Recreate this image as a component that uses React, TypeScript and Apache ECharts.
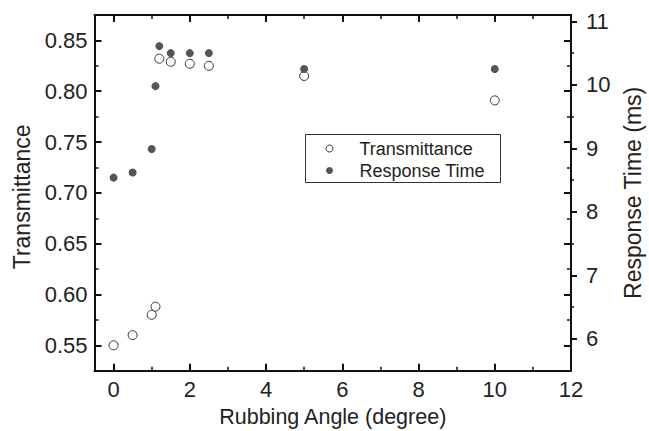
import React, { useEffect, useRef } from "react";
import * as echarts from "echarts";

const angleT = [0, 0.5, 1.0, 1.1, 1.2, 1.5, 2.0, 2.5, 5.0, 10.0];
const transmittance = [0.55, 0.56, 0.58, 0.588, 0.832, 0.829, 0.827, 0.825, 0.815, 0.791];
const angleR = [0, 0.5, 1.0, 1.1, 1.2, 1.5, 2.0, 2.5, 5.0, 10.0];
const responseTime = [8.54, 8.62, 8.99, 9.98, 10.61, 10.5, 10.5, 10.5, 10.25, 10.25];
const legendNames = ["Transmittance", "Response Time"];

const xMajor = [0, 2, 4, 6, 8, 10, 12];
const xMinor = [1, 3, 5, 7, 9, 11];
const tMajor = [0.55, 0.6, 0.65, 0.7, 0.75, 0.8, 0.85];
const tMinor = [0.575, 0.625, 0.675, 0.725, 0.775, 0.825];
const rMajor = [6, 7, 8, 9, 10, 11];
const rMinor = [6.5, 7.5, 8.5, 9.5, 10.5];

const FONT = "'Liberation Sans', Arial, Helvetica, sans-serif";
const TXT = "#222";
const LINE = "#111";
const OPEN_STROKE = "#333";
const FILLED = "#555";
const TICK_FS = 22;

export default function App() {
  const ref = useRef<HTMLDivElement>(null);
  useEffect(() => {
    if (!ref.current) return;
    const chart = echarts.init(ref.current, undefined, { renderer: "svg" });
    const tickAxisX = (pos: string, vals: number[], len: number, w: number, line: boolean) => ({
      type: "value",
      position: pos,
      min: -0.5,
      max: 12,
      axisLine: { show: line, onZero: false, lineStyle: { color: LINE, width: 2 } },
      axisTick: { show: true, inside: true, length: len, customValues: vals, lineStyle: { color: LINE, width: w } },
      axisLabel: { show: false },
      splitLine: { show: false },
    });
    const tickAxisY = (pos: string, min: number, max: number, vals: number[], len: number, w: number, inside: boolean) => ({
      type: "value",
      position: pos,
      min,
      max,
      axisLine: { show: false, onZero: false },
      axisTick: { show: true, inside, length: len, customValues: vals, lineStyle: { color: LINE, width: w } },
      axisLabel: { show: false },
      splitLine: { show: false },
    });
    chart.setOption({
      animation: false,
      backgroundColor: "#fff",
      textStyle: { fontFamily: FONT },
      grid: { left: 94.5, right: 78, top: 15, bottom: 60.3, containLabel: false, outerBoundsMode: "none" },
      graphic: [
        {
          type: "group",
          left: 305,
          top: 134,
          silent: true,
          children: [
            { type: "rect", shape: { x: 0, y: 0, width: 195, height: 48 }, style: { fill: "#fff", stroke: "#333", lineWidth: 1 } },
            { type: "circle", shape: { cx: 24, cy: 14, r: 3.5 }, style: { fill: "#fff", stroke: OPEN_STROKE, lineWidth: 1 } },
            { type: "circle", shape: { cx: 24, cy: 36, r: 3.5 }, style: { fill: FILLED } },
            {
              type: "text",
              x: 54,
              y: 14,
              style: { text: legendNames[0], font: `18px ${FONT}`, fill: TXT, verticalAlign: "middle", align: "left" },
            },
            {
              type: "text",
              x: 54,
              y: 36,
              style: { text: legendNames[1], font: `18px ${FONT}`, fill: TXT, verticalAlign: "middle", align: "left" },
            },
          ],
        },
      ],
      xAxis: [
        {
          type: "value",
          position: "bottom",
          min: -0.5,
          max: 12,
          name: "Rubbing Angle (degree)",
          nameLocation: "middle",
          nameGap: 35,
          nameTextStyle: { fontSize: 21.5, color: TXT, fontFamily: FONT },
          axisLine: { show: true, onZero: false, lineStyle: { color: LINE, width: 2 } },
          axisTick: { show: true, inside: true, length: 7, customValues: xMajor, lineStyle: { color: LINE, width: 2 } },
          axisLabel: { show: true, customValues: xMajor, fontSize: TICK_FS, color: TXT, margin: 8, fontFamily: FONT },
          splitLine: { show: false },
        },
        tickAxisX("bottom", xMinor, 4, 1.5, false),
        tickAxisX("top", xMajor, 7, 2, true),
        tickAxisX("top", xMinor, 4, 1.5, false),
      ],
      yAxis: [
        {
          type: "value",
          position: "left",
          min: 0.525,
          max: 0.875,
          name: "Transmittance",
          nameLocation: "middle",
          nameGap: 60,
          nameTextStyle: { fontSize: 23, color: TXT, fontFamily: FONT, padding: [0, 8, 0, 0] },
          axisLine: { show: true, onZero: false, lineStyle: { color: LINE, width: 2 } },
          axisTick: { show: true, inside: true, length: 7, customValues: tMajor, lineStyle: { color: LINE, width: 2 } },
          axisLabel: {
            show: true,
            customValues: tMajor,
            fontSize: TICK_FS,
            color: TXT,
            margin: 7,
            fontFamily: FONT,
            formatter: (v: number) => v.toFixed(2),
          },
          splitLine: { show: false },
        },
        tickAxisY("left", 0.525, 0.875, tMinor, 4, 1.5, true),
        tickAxisY("right", 0.525, 0.875, tMajor, 7, 2, true),
        tickAxisY("right", 0.525, 0.875, tMinor, 4, 1.5, true),
        {
          type: "value",
          position: "right",
          min: 5.5,
          max: 11.1,
          name: "Response Time (ms)",
          nameLocation: "middle",
          nameGap: 50,
          nameTextStyle: { fontSize: 23, color: TXT, fontFamily: FONT },
          axisLine: { show: true, onZero: false, lineStyle: { color: LINE, width: 2 } },
          axisTick: { show: true, inside: false, length: 6, customValues: rMajor, lineStyle: { color: LINE, width: 2 } },
          axisLabel: { show: true, customValues: rMajor, fontSize: TICK_FS, color: TXT, margin: 15, fontFamily: FONT },
          splitLine: { show: false },
        },
        tickAxisY("right", 5.5, 11.1, rMinor, 3, 1.5, false),
      ],
      series: [
        {
          name: legendNames[0],
          type: "scatter",
          xAxisIndex: 0,
          yAxisIndex: 0,
          symbol: "circle",
          symbolSize: 9,
          itemStyle: { color: "#fff", borderColor: OPEN_STROKE, borderWidth: 1, opacity: 1 },
          data: angleT.map((x, i) => [x, transmittance[i]]),
          z: 3,
        },
        {
          name: legendNames[1],
          type: "scatter",
          xAxisIndex: 0,
          yAxisIndex: 4,
          symbol: "circle",
          symbolSize: 8,
          itemStyle: { color: FILLED, opacity: 1 },
          data: angleR.map((x, i) => [x, responseTime[i]]),
          z: 4,
        },
      ],
    });
    return () => chart.dispose();
  }, []);
  return (
    <div
      ref={ref}
      style={{ position: "fixed", left: 0, top: 0, width: 649, height: 431, background: "#fff" }}
    />
  );
}
